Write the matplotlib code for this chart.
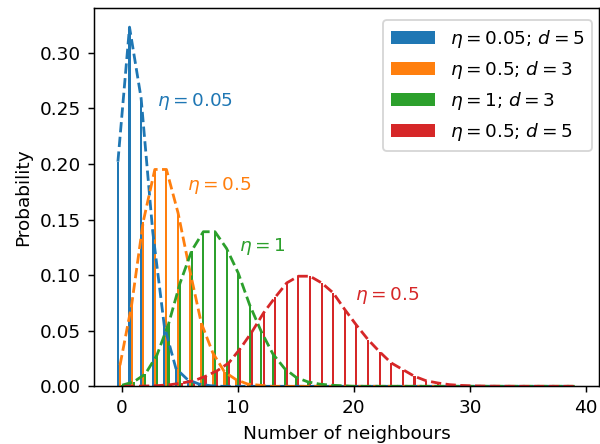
import numpy as np
import matplotlib
matplotlib.use("Agg")
import matplotlib.pyplot as plt

# number of neighbours k = 0..39
k = np.arange(40)

# probabilities (tails padded with zeros)
p_eta005_d5 = [0.202, 0.323, 0.259, 0.139, 0.054, 0.016, 0.006, 0.002, 0.0005]
p_eta05_d3 = [0.019, 0.073, 0.148, 0.195, 0.195, 0.156, 0.105, 0.057, 0.030,
              0.013, 0.006, 0.002, 0.001]
p_eta1_d3 = [0.001, 0.004, 0.011, 0.028, 0.056, 0.093, 0.122, 0.139, 0.139,
             0.124, 0.102, 0.073, 0.049, 0.029, 0.016, 0.008, 0.004, 0.002,
             0.001, 0.0005]
p_eta05_d5 = [0.0, 0.0001, 0.0003, 0.0007, 0.0015, 0.003, 0.005, 0.009, 0.014,
              0.021, 0.034, 0.049, 0.066, 0.080, 0.093, 0.099, 0.099, 0.093,
              0.084, 0.069, 0.055, 0.042, 0.031, 0.021, 0.015, 0.009, 0.005,
              0.003, 0.0015, 0.0008, 0.0004, 0.0002, 0.0001, 0.00005]

labels = [r"$\eta = 0.05$; $d = 5$", r"$\eta = 0.5$; $d = 3$",
          r"$\eta = 1$; $d = 3$", r"$\eta = 0.5$; $d = 5$"]
notes = [r"$\eta = 0.05$", r"$\eta = 0.5$", r"$\eta = 1$", r"$\eta = 0.5$"]
note_xy = [(3.0, 0.256), (5.6, 0.181), (10.1, 0.1255), (20.1, 0.082)]
xticks = [0, 10, 20, 30, 40]


def pad(p):
    return np.array(list(p) + [0.0] * (len(k) - len(p)))


series = [pad(p_eta005_d5), pad(p_eta05_d3), pad(p_eta1_d3), pad(p_eta05_d5)]
offsets = [-0.33, -0.15, 0.03, 0.22]
colors = ["C0", "C1", "C2", "C3"]

fig = plt.figure(figsize=(4.5, 3.33), dpi=600 / 4.5)
ax = fig.add_axes([94 / 600, (444 - 386.3) / 444, 505 / 600, 378.3 / 444])

for p, off, c, lab in zip(series, offsets, colors, labels):
    ax.bar(k + off, p, width=0.18, color=c, label=lab)
    ax.plot(k + off, p, "--", color=c)

for txt, (x, y), c in zip(notes, note_xy, colors):
    ax.text(x, y, txt, color=c, va="center", ha="left")

ax.set_xlim(-2.39, 41.12)
ax.set_ylim(0, 0.3402)
ax.set_xticks(xticks)
ax.set_xlabel("Number of neighbours")
ax.set_ylabel("Probability")
ax.legend(loc="upper right", bbox_to_anchor=(1 + 2 / 505, 1 - 3 / 378),
          handlelength=2.4)

fig.savefig("out.png", dpi=600 / 4.5)
